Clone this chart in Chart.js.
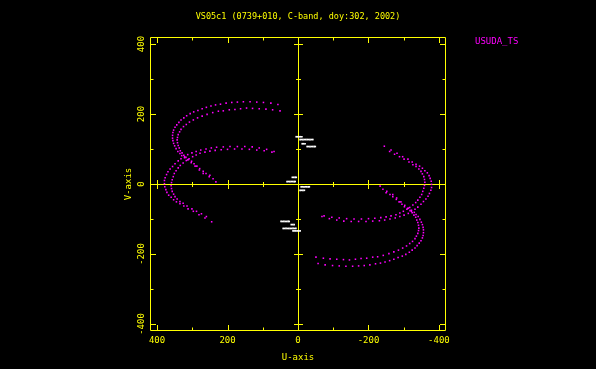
<!DOCTYPE html>
<html>
<head>
<meta charset="utf-8">
<script src="https://cdn.jsdelivr.net/npm/chart.js@4.4.1/dist/chart.umd.min.js"></script>
<style>
    html, body { margin: 0; padding: 0; background: #000; }
    #wrap { width: 596px; height: 369px; }
</style>
</head>
<body>
<div id="wrap"><canvas id="uvChart" width="596" height="369"></canvas></div>
<script>
const titleText = 'VS05c1 (0739+010, C-band, doy:302, 2002)';
const stationLabel = 'USUDA_TS';
const majorTicks = [-400, -200, 0, 200, 400];
const minorTicks = [-400, -300, -200, -100, 0, 100, 200, 300, 400];

// Usuda - space baseline tracks (upper-left half, conjugates drawn from them)
const arcOuterHiU = [57, 77, 98, 117, 136, 155, 172, 188, 204, 220, 234, 247, 260, 272, 284, 296, 306, 316, 324, 332, 338, 344, 349, 353, 355, 356, 356, 355, 353, 350, 346, 341, 335, 330, 322, 313, 303, 292, 280, 269, 252];
const arcOuterHiV = [227, 231, 233, 234, 235, 235, 234, 233, 231, 228, 226, 223, 219, 215, 210, 206, 201, 195, 189, 183, 176, 169, 162, 154, 147, 139, 131, 124, 116, 109, 101, 93, 87, 81, 75, 69, 61, 51, 40, 30, 21];

const arcInnerHiU = [51, 72, 91, 110, 129, 146, 163, 179, 195, 212, 226, 242, 258, 272, 285, 297, 308, 317, 325, 332, 336, 340, 342, 343, 342, 340, 337, 334, 329, 324, 318, 311, 302, 295, 287, 279, 269, 261, 250, 241, 233];
const arcInnerHiV = [209, 212, 214, 215, 216, 217, 215, 213, 212, 209, 208, 204, 199, 194, 189, 183, 177, 170, 164, 156, 149, 141, 133, 126, 118, 110, 103, 95, 89, 82, 76, 70, 65, 58, 51, 44, 36, 30, 25, 15, 6];

const arcOuterLoU = [68, 89, 110, 130, 151, 172, 193, 212, 231, 246, 261, 276, 289, 301, 313, 322, 332, 340, 349, 356, 363, 369, 373, 377, 379, 379, 378, 375, 372, 367, 360, 353, 345, 335, 324, 312, 297, 281, 264, 245];
const arcOuterLoV = [93, 99, 103, 106, 107, 107, 107, 106, 105, 103, 100, 97, 93, 89, 84, 78, 72, 66, 58, 50, 43, 35, 27, 18, 10, 1, -8, -16, -24, -32, -38, -45, -51, -56, -63, -71, -78, -88, -97, -108];

const arcInnerLoU = [74, 96, 117, 138, 159, 180, 200, 218, 235, 250, 264, 278, 289, 299, 309, 317, 326, 334, 340, 346, 351, 354, 357, 359, 360, 359, 357, 353, 349, 343, 335, 326, 315, 301, 288, 274, 260];
const arcInnerLoV = [91, 95, 97, 99, 100, 100, 99, 98, 96, 94, 91, 88, 83, 78, 72, 67, 60, 53, 46, 38, 30, 21, 12, 4, -5, -13, -21, -29, -36, -43, -50, -55, -63, -71, -78, -85, -93];

// short ground baselines near the origin
const groundU = [5, 1, -3, -7, -11,
    -6, -10, -14, -18, -22, -26, -30, -34, -38, -42,
    -12, -16, -20,
    -26, -30, -34, -38, -42, -46, -49,
    16, 12, 8, 5,
    31, 27, 23, 19, 15, 11, 8,
    -9, -13, -17, -21, -25, -29, -32,
    -6, -10, -14, -18,
    48, 44, 40, 36, 32, 28, 25,
    19, 15, 11,
    42, 38, 34, 30, 26, 22, 18, 14, 10, 6,
    14, 10, 6, 2, -2, -6];
const groundV = [135, 135, 135, 135, 135,
    127, 127, 127, 127, 127, 127, 127, 127, 127, 127,
    115, 115, 115,
    107, 107, 107, 107, 107, 107, 107,
    19, 19, 19, 19,
    7, 7, 7, 7, 7, 7, 7,
    -8, -8, -8, -8, -8, -8, -8,
    -18, -18, -18, -18,
    -107, -107, -107, -107, -107, -107, -107,
    -116, -116, -116,
    -127, -127, -127, -127, -127, -127, -127, -127, -127, -127,
    -134, -134, -134, -134, -134, -134];

const YELLOW = '#ffff00';
const MAGENTA = '#ff00ff';
const MONO = '"DejaVu Sans Mono", "Liberation Mono", monospace';

function toPoints(us, vs) {
    return us.map((u, i) => ({ x: u, y: vs[i] }));
}

// every visibility also has its conjugate (-u, -v)
function withConjugates(pts) {
    return pts.concat(pts.map(p => ({ x: -p.x, y: -p.y })));
}

const spacePoints = withConjugates([
    ...toPoints(arcOuterHiU, arcOuterHiV),
    ...toPoints(arcInnerHiU, arcInnerHiV),
    ...toPoints(arcOuterLoU, arcOuterLoV),
    ...toPoints(arcInnerLoU, arcInnerLoV)
]);
const groundPoints = toPoints(groundU, groundV);

// box, centre axes and inward ticks
const framePlugin = {
    id: 'frame',
    beforeDatasetsDraw(chart) {
        const { ctx, chartArea: a, scales: { x, y } } = chart;
        const x0 = Math.round(x.getPixelForValue(0)) + 0.5;
        const y0 = Math.round(y.getPixelForValue(0)) + 0.5;
        ctx.save();
        ctx.strokeStyle = YELLOW;
        ctx.lineWidth = 1;
        ctx.beginPath();
        ctx.rect(a.left + 0.5, a.top + 0.5, a.width - 1, a.height - 1);
        ctx.moveTo(x0, a.top);
        ctx.lineTo(x0, a.bottom);
        ctx.moveTo(a.left, y0);
        ctx.lineTo(a.right, y0);
        minorTicks.forEach(v => {
            const major = majorTicks.includes(v);
            const len = major ? 6 : 3.5;
            const half = major ? 4.5 : 2.5;
            const px = Math.round(x.getPixelForValue(v)) + 0.5;
            const py = Math.round(y.getPixelForValue(v)) + 0.5;
            ctx.moveTo(px, a.top); ctx.lineTo(px, a.top + len);
            ctx.moveTo(px, a.bottom); ctx.lineTo(px, a.bottom - len);
            ctx.moveTo(a.left, py); ctx.lineTo(a.left + len, py);
            ctx.moveTo(a.right, py); ctx.lineTo(a.right - len, py);
            ctx.moveTo(px, y0 - half); ctx.lineTo(px, y0 + half);
            ctx.moveTo(x0 - half, py); ctx.lineTo(x0 + half, py);
        });
        ctx.stroke();
        ctx.restore();
    },
    afterDraw(chart) {
        const { ctx } = chart;
        ctx.save();
        ctx.textBaseline = 'middle';
        ctx.font = '8.5px ' + MONO;
        ctx.fillStyle = YELLOW;
        ctx.textAlign = 'center';
        ctx.fillText(titleText, 298, 17);
        ctx.font = '9px ' + MONO;
        ctx.fillStyle = MAGENTA;
        ctx.textAlign = 'left';
        ctx.fillText(stationLabel, 475, 42);
        ctx.restore();
    }
};

const ctx = document.getElementById('uvChart').getContext('2d');
new Chart(ctx, {
    type: 'scatter',
    data: {
        datasets: [
            {
                label: stationLabel,
                data: spacePoints,
                backgroundColor: MAGENTA,
                borderWidth: 0,
                pointStyle: 'rect',
                pointRadius: 1.1
            },
            {
                label: 'ground',
                data: groundPoints,
                backgroundColor: '#ffffff',
                borderWidth: 0,
                pointStyle: 'rect',
                pointRadius: 1.2
            }
        ]
    },
    options: {
        responsive: false,
        animation: false,
        devicePixelRatio: 1,
        layout: { padding: { left: 100, right: 150, top: 37, bottom: 0 } },
        plugins: {
            legend: { display: false },
            tooltip: { enabled: false },
            title: { display: false }
        },
        scales: {
            x: {
                type: 'linear',
                reverse: true,
                min: -420,
                max: 420,
                afterBuildTicks: s => { s.ticks = majorTicks.map(v => ({ value: v })); },
                afterFit: s => { s.height = 38; },
                grid: { display: false, drawTicks: false },
                border: { display: false },
                ticks: {
                    color: YELLOW,
                    font: { family: MONO, size: 9 },
                    padding: 4,
                    maxRotation: 0,
                    callback: v => String(v)
                },
                title: {
                    display: true,
                    text: 'U-axis',
                    color: YELLOW,
                    font: { family: MONO, size: 9 },
                    padding: { top: 0, bottom: 6 }
                }
            },
            y: {
                type: 'linear',
                min: -420,
                max: 420,
                afterBuildTicks: s => { s.ticks = majorTicks.map(v => ({ value: v })); },
                afterFit: s => { s.width = 50; },
                grid: { display: false, drawTicks: false },
                border: { display: false },
                ticks: {
                    color: YELLOW,
                    font: { family: MONO, size: 9 },
                    minRotation: 90,
                    maxRotation: 90,
                    crossAlign: 'center',
                    padding: -2.5,
                    callback: v => String(v)
                },
                title: {
                    display: true,
                    text: 'V-axis',
                    color: YELLOW,
                    font: { family: MONO, size: 9 },
                    padding: { top: 23, bottom: 0 }
                }
            }
        }
    },
    plugins: [framePlugin]
});
</script>
</body>
</html>
